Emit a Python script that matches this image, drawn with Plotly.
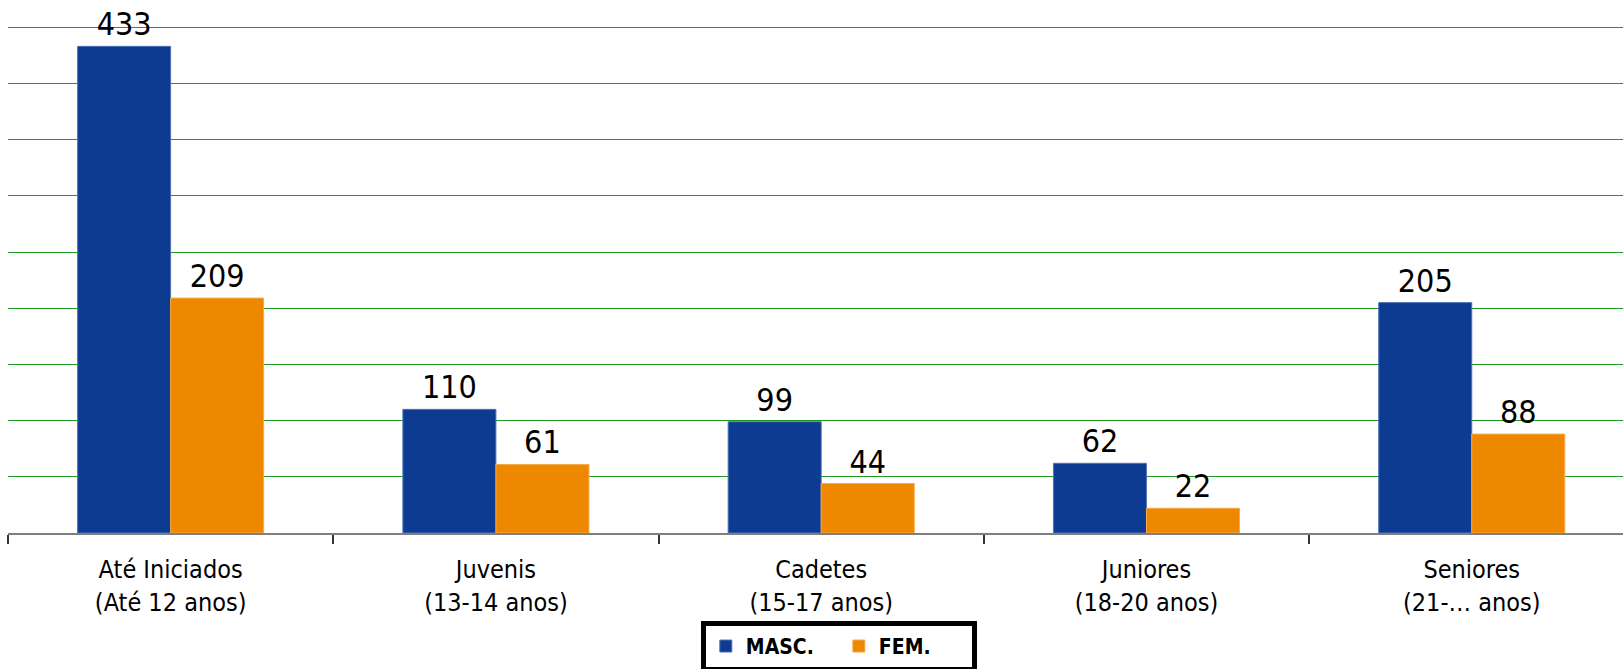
import plotly.graph_objects as go

categories = ["Até Iniciados<br>(Até 12 anos)", "Juvenis<br>(13-14 anos)", "Cadetes<br>(15-17 anos)",
              "Juniores<br>(18-20 anos)", "Seniores<br>(21-… anos)"]
masc = [433, 110, 99, 62, 205]
fem = [209, 61, 44, 22, 88]

FONT = "DejaVu Sans Condensed, Roboto Condensed, Liberation Sans Narrow, Arial Narrow, Roboto, sans-serif"
BLUE = "#0D3B91"
ORANGE = "#EE8800"

fig = go.Figure()
fig.add_trace(go.Bar(
    x=categories, y=masc, name="MASC.",
    marker=dict(color=BLUE, line=dict(color="#4f73b8", width=1)),
    text=masc, textposition="outside", cliponaxis=False,
    textfont=dict(family=FONT, size=32, color="black"),
))
fig.add_trace(go.Bar(
    x=categories, y=fem, name="FEM.",
    marker=dict(color=ORANGE, line=dict(color="#f5a94a", width=1)),
    text=fem, textposition="outside", cliponaxis=False,
    textfont=dict(family=FONT, size=32, color="black"),
))

fig.update_layout(
    width=1623, height=669,
    margin=dict(l=8, r=0, t=16, b=136, autoexpand=False),
    paper_bgcolor="white", plot_bgcolor="white",
    barmode="group", bargap=0.428, bargroupgap=0,
    font=dict(family=FONT, size=25, color="black"),
    showlegend=True,
    legend=dict(
        orientation="h", x=0.429, xanchor="left", y=-0.17, yanchor="top",
        bordercolor="black", borderwidth=5, bgcolor="white",
        font=dict(family=FONT, size=21, color="black", weight="bold"),
        itemwidth=30, tracegroupgap=0, entrywidth=88, entrywidthmode="pixels",
    ),
)
fig.update_xaxes(
    type="category", range=[-0.5, 4.465], automargin=False,
    showline=True, linecolor="#7f7f7f", linewidth=2,
    ticks="outside", tickson="boundaries", ticklen=9, tickwidth=1.5, tickcolor="#333333",
    showgrid=False, tickfont=dict(family=FONT, size=25, color="black"),
    ticklabelstandoff=13,
)
fig.update_yaxes(
    range=[0, 460], dtick=50, showticklabels=False, automargin=False,
    showgrid=True, gridcolor="#1f9a1f", gridwidth=1,
    zeroline=False, showline=False,
)

fig.write_html("out.html", config=dict(displayModeBar=False),
               post_script="document.body.style.margin='0';document.body.style.overflow='hidden';")
